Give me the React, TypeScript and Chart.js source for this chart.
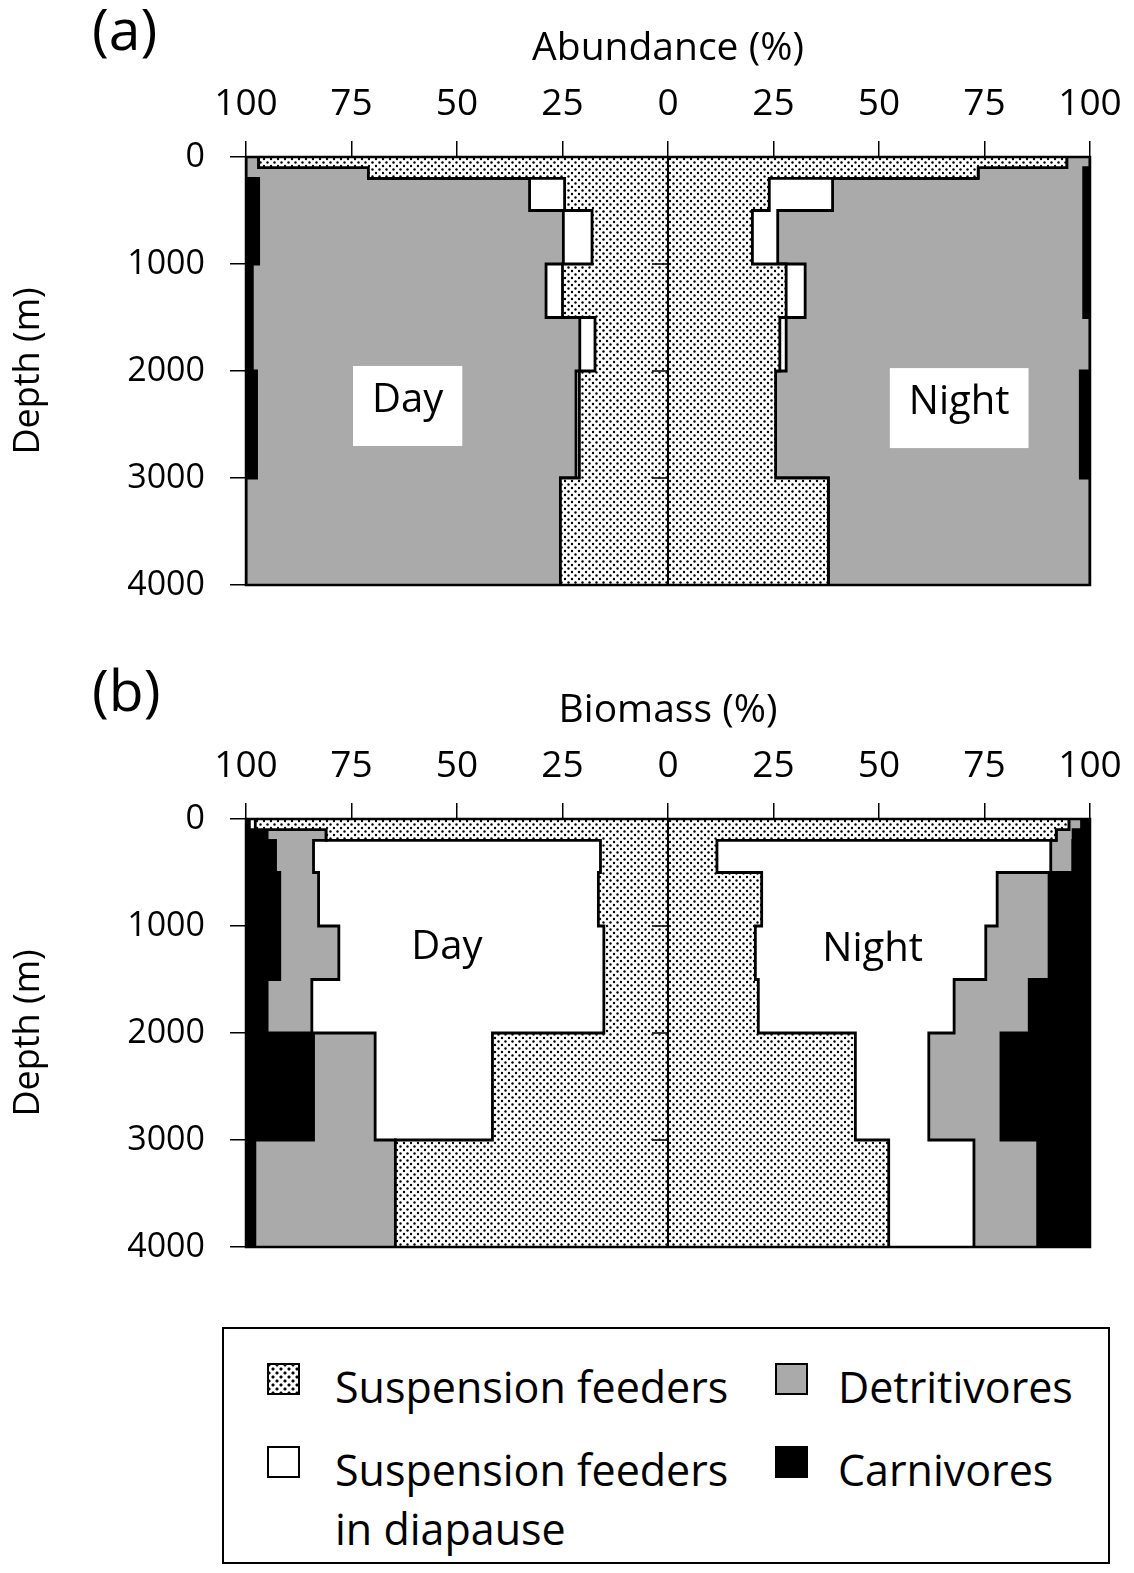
import React, { useEffect, useRef } from 'react';
import { Chart, registerables } from 'chart.js';

Chart.register(...registerables);

const FONT = "'Open Sans', sans-serif";

// Depth bins (m): top of each layer, last layer ends at maxDepth
const depthTops = [0, 100, 200, 500, 1000, 1500, 2000, 3000];
const maxDepth = 4000;
const centerTickDepths = [1000, 2000, 3000];

const categoryNames = ['Suspension feeders', 'Suspension feeders in diapause', 'Detritivores', 'Carnivores'];

// (a) Abundance (%) — Day
const abDaySusp = [97, 71, 24.5, 18, 25, 17.3, 21, 25.5];
const abDayDiap = [0, 0, 8.3, 6.8, 3.9, 3.6, 0.8, 0];
const abDayDetr = [3, 29, 64.2, 72.2, 69.6, 77.6, 75.7, 74.5];
const abDayCarn = [0, 0, 3, 3, 1.5, 1.5, 2.5, 0];
// (a) Abundance (%) — Night
const abNightSusp = [94.5, 73.5, 24, 20, 28, 26.5, 25.5, 38];
const abNightDiap = [0, 0, 15, 6, 4.5, 1.5, 0, 0];
const abNightDetr = [5.5, 25, 59.5, 72.5, 66, 72, 72.2, 62];
const abNightCarn = [0, 1.5, 1.5, 1.5, 1.5, 0, 2.3, 0];

// (b) Biomass (%) — Day
const bmDaySusp = [97.8, 81, 16, 16.5, 15.2, 15.2, 41.6, 64.6];
const bmDayDiap = [1.4, 0, 68, 66.3, 62.8, 69.2, 27.8, 0];
const bmDayDetr = [0, 14, 9, 9.2, 14, 10.6, 14.6, 33.3];
const bmDayCarn = [0.8, 5, 7, 8, 8, 5, 16, 2.1];
// (b) Biomass (%) — Night
const bmNightSusp = [95, 92, 11.6, 22.2, 20.7, 21.4, 44.4, 52.3];
const bmNightDiap = [0, 0, 79.1, 55.8, 54.6, 46.4, 17.4, 20.2];
const bmNightDetr = [3, 4, 5.2, 12.3, 15, 17.8, 17.1, 15.1];
const bmNightCarn = [2, 4, 4.1, 9.7, 9.7, 14.4, 21.1, 12.4];

function makeDotPattern(): any {
  const c = document.createElement('canvas');
  c.width = 7;
  c.height = 7;
  const g = c.getContext('2d')!;
  g.fillStyle = '#ffffff';
  g.fillRect(0, 0, 7, 7);
  g.fillStyle = '#000000';
  g.beginPath();
  g.arc(1.5, 1.5, 1.2, 0, Math.PI * 2);
  g.fill();
  g.beginPath();
  g.arc(5, 5, 1.2, 0, Math.PI * 2);
  g.fill();
  return g.createPattern(c, 'repeat');
}

function makeAnnotPlugin(labels: any[]) {
  return {
    id: 'annot',
    afterDatasetsDraw(chart: any) {
      const { ctx, chartArea } = chart;
      const xs = chart.scales.x;
      const ys = chart.scales.y;
      ctx.save();
      ctx.strokeStyle = '#000';
      ctx.lineWidth = 2.5;
      ctx.strokeRect(chartArea.left, chartArea.top, chartArea.right - chartArea.left, chartArea.bottom - chartArea.top);
      const x0 = xs.getPixelForValue(0);
      ctx.lineWidth = 1.5;
      for (const d of centerTickDepths) {
        const py = ys.getPixelForValue(d);
        ctx.beginPath();
        ctx.moveTo(x0 - 16, py);
        ctx.lineTo(x0, py);
        ctx.stroke();
      }
      ctx.font = `40px ${FONT}`;
      ctx.textAlign = 'center';
      ctx.textBaseline = 'middle';
      for (const l of labels) {
        const px = xs.getPixelForValue(l.x);
        const py = ys.getPixelForValue(l.y);
        if (l.box) {
          const w = ctx.measureText(l.text).width + 38;
          ctx.fillStyle = '#fff';
          ctx.fillRect(px - w / 2, py + 5 - 40, w, 80);
        }
        ctx.fillStyle = '#000';
        ctx.fillText(l.text, px, py);
      }
      ctx.restore();
    },
  };
}

function Panel({ top, title, day, night, labels }: any) {
  const ref = useRef<HTMLCanvasElement>(null);
  useEffect(() => {
    const pattern = makeDotPattern();
    const fills = [pattern, '#ffffff', '#aaaaaa', '#000000'];
    const datasets: any[] = [];
    const build = (series: number[][], sign: number, side: string) => {
      let run = depthTops.map(() => 0);
      series.forEach((vals, k) => {
        run = run.map((r, i) => r + vals[i]);
        const pts = depthTops.map((d, i) => ({ x: sign * run[i], y: d }));
        pts.push({ x: sign * run[run.length - 1], y: maxDepth });
        datasets.push({
          label: `${side} ${categoryNames[k]}`,
          data: pts,
          stepped: 'after',
          fill: 'origin',
          backgroundColor: fills[k],
          borderColor: '#000',
          borderWidth: 2.8,
          pointRadius: 0,
          order: k + 1,
        });
      });
    };
    build(day, -1, 'Day');
    build(night, 1, 'Night');
    datasets.push({
      label: 'center',
      data: [{ x: 0, y: 0 }, { x: 0, y: maxDepth }],
      borderColor: '#000',
      borderWidth: 2,
      pointRadius: 0,
      fill: false,
      order: 0,
    });
    const chart = new Chart(ref.current!, {
      type: 'line',
      data: { datasets },
      options: {
        animation: false,
        responsive: false,
        indexAxis: 'y',
        layout: { padding: { left: 0, right: 44, top: 0, bottom: 25 } },
        plugins: { legend: { display: false }, tooltip: { enabled: false } },
        scales: {
          x: {
            type: 'linear',
            position: 'top',
            min: -100,
            max: 100,
            ticks: {
              stepSize: 25,
              autoSkip: false,
              maxRotation: 0,
              color: '#000',
              font: { family: FONT, size: 37 },
              padding: 14,
              callback: (v: any) => String(Math.abs(Number(v))),
            },
            grid: { drawOnChartArea: false, drawTicks: true, tickLength: 16, color: '#000', lineWidth: 1.5 },
            border: { display: true, color: '#000', width: 2.5 },
            title: {
              display: true,
              text: title,
              color: '#000',
              font: { family: FONT, size: 39 },
              padding: { top: 25, bottom: 0 },
            },
            afterFit: (s: any) => {
              s.height = 157;
              s.paddingLeft = 0;
              s.paddingRight = 0;
            },
          },
          y: {
            type: 'linear',
            position: 'left',
            reverse: true,
            min: 0,
            max: maxDepth,
            ticks: {
              stepSize: 1000,
              autoSkip: false,
              color: '#000',
              font: { family: FONT, size: 34 },
              padding: 25,
              callback: (v: any) => String(v),
            },
            grid: { drawOnChartArea: false, drawTicks: true, tickLength: 16, color: '#000', lineWidth: 1.5 },
            border: { display: true, color: '#000', width: 2.5 },
            title: {
              display: true,
              text: 'Depth (m)',
              color: '#000',
              font: { family: FONT, size: 36 },
              padding: { top: 7, bottom: 0 },
            },
            afterFit: (s: any) => {
              s.width = 246;
              s.paddingTop = 0;
              s.paddingBottom = 0;
            },
          },
        },
      } as any,
      plugins: [makeAnnotPlugin(labels)],
    });
    return () => chart.destroy();
  }, []);
  return (
    <canvas
      ref={ref}
      width={1134}
      height={610}
      style={{ position: 'absolute', left: 0, top, width: 1134, height: 610 }}
    />
  );
}

const swatchBase: any = {
  position: 'absolute',
  width: 33,
  height: 32,
  boxSizing: 'border-box',
  border: '2.5px solid #000',
};

const textBase: any = {
  position: 'absolute',
  fontSize: 43,
  lineHeight: '43px',
  whiteSpace: 'nowrap',
};

export default function App() {
  return (
    <div
      style={{
        position: 'absolute',
        left: 0,
        top: 0,
        width: 1134,
        height: 1573,
        background: '#fff',
        fontFamily: FONT,
        color: '#000',
        overflow: 'hidden',
      }}
    >
      <Panel
        top={0}
        title="Abundance (%)"
        day={[abDaySusp, abDayDiap, abDayDetr, abDayCarn]}
        night={[abNightSusp, abNightDiap, abNightDetr, abNightCarn]}
        labels={[
          { text: 'Day', x: -61.7, y: 2280, box: true },
          { text: 'Night', x: 69, y: 2300, box: true },
        ]}
      />
      <Panel
        top={662}
        title="Biomass (%)"
        day={[bmDaySusp, bmDayDiap, bmDayDetr, bmDayCarn]}
        night={[bmNightSusp, bmNightDiap, bmNightDetr, bmNightCarn]}
        labels={[
          { text: 'Day', x: -52.4, y: 1200, box: false },
          { text: 'Night', x: 48.5, y: 1225, box: false },
        ]}
      />
      <div style={{ position: 'absolute', left: 92, top: 0, fontSize: 57, lineHeight: '57px' }}>(a)</div>
      <div style={{ position: 'absolute', left: 92, top: 661, fontSize: 57, lineHeight: '57px' }}>(b)</div>

      <div
        style={{
          position: 'absolute',
          left: 222,
          top: 1327,
          width: 888,
          height: 237,
          boxSizing: 'border-box',
          border: '2.5px solid #000',
        }}
      />
      <div
        style={{
          ...swatchBase,
          left: 267,
          top: 1363,
          background:
            'radial-gradient(circle, #000 1.3px, transparent 1.8px) 0 0 / 8px 8px, radial-gradient(circle, #000 1.3px, transparent 1.8px) 4px 4px / 8px 8px, #fff',
        }}
      />
      <div style={{ ...textBase, left: 335, top: 1365 }}>{categoryNames[0]}</div>
      <div style={{ ...swatchBase, left: 775, top: 1363, background: '#aaaaaa' }} />
      <div style={{ ...textBase, left: 838, top: 1365 }}>{categoryNames[2]}</div>
      <div style={{ ...swatchBase, left: 267, top: 1446, background: '#fff' }} />
      <div style={{ ...textBase, left: 335, top: 1448 }}>Suspension feeders</div>
      <div style={{ ...textBase, left: 335, top: 1507 }}>in diapause</div>
      <div style={{ ...swatchBase, left: 775, top: 1446, background: '#000' }} />
      <div style={{ ...textBase, left: 838, top: 1448 }}>{categoryNames[3]}</div>
    </div>
  );
}
